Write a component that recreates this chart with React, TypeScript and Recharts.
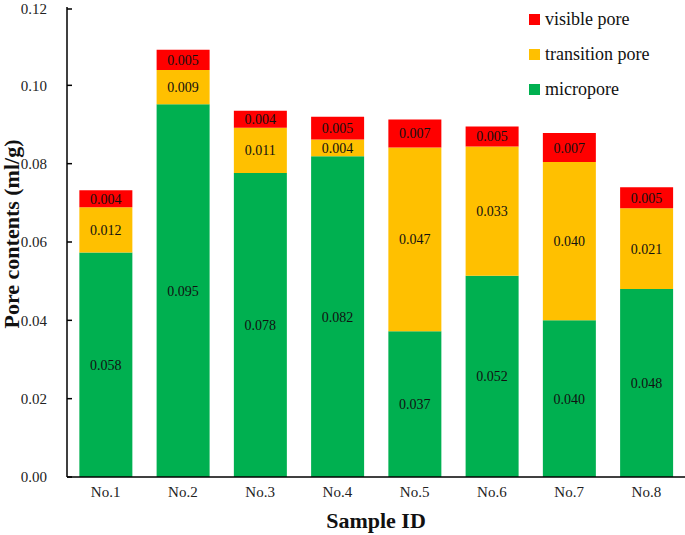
import { BarChart, Bar, XAxis, YAxis, LabelList } from 'recharts';

const samples = ['No.1', 'No.2', 'No.3', 'No.4', 'No.5', 'No.6', 'No.7', 'No.8'];
const micropore = [0.0573, 0.0952, 0.0776, 0.0819, 0.0372, 0.0514, 0.0400, 0.0480];
const transitionPore = [0.0116, 0.0087, 0.0116, 0.0043, 0.0469, 0.0330, 0.0404, 0.0206];
const visiblePore = [0.0043, 0.0052, 0.0043, 0.0058, 0.0072, 0.0051, 0.0074, 0.0054];
const microLabels = ['0.058', '0.095', '0.078', '0.082', '0.037', '0.052', '0.040', '0.048'];
const transitionLabels = ['0.012', '0.009', '0.011', '0.004', '0.047', '0.033', '0.040', '0.021'];
const visibleLabels = ['0.004', '0.005', '0.004', '0.005', '0.007', '0.005', '0.007', '0.005'];
const yTicks = [0, 0.02, 0.04, 0.06, 0.08, 0.1, 0.12];

const data = samples.map((name, i) => ({
  name,
  micro: micropore[i],
  transition: transitionPore[i],
  visible: visiblePore[i],
  microLabel: microLabels[i],
  transitionLabel: transitionLabels[i],
  visibleLabel: visibleLabels[i],
}));

// legend reads top to bottom, opposite of the stack order
const legendItems = [
  { name: 'visible pore', color: '#FF0000' },
  { name: 'transition pore', color: '#FFC000' },
  { name: 'micropore', color: '#00B050' },
];

const FONT = 'Liberation Serif, Times New Roman, serif';

const YTick = (props: any) => {
  const { x, y, payload } = props;
  return (
    <g>
      <line x1={x} x2={x + 5} y1={y} y2={y} stroke="#000" strokeWidth={1.5} />
      <text x={x - 20} y={y} dy="0.35em" textAnchor="end" fontSize={15} fontFamily={FONT} fill="#222">
        {payload.value.toFixed(2)}
      </text>
    </g>
  );
};

const labelStyle = { fontSize: 14, fontFamily: FONT, fill: '#111' };
const titleStyle = { fontSize: 22, fontWeight: 'bold', fontFamily: FONT, fill: '#111' };

export default function App() {
  return (
    <div style={{ position: 'absolute', left: 0, top: 0, width: 685, height: 535, background: '#fff', fontFamily: FONT }}>
      <BarChart
        width={685}
        height={535}
        data={data}
        margin={{ top: 7, right: 0, left: 0, bottom: 0 }}
        barCategoryGap="16%"
      >
        <XAxis
          dataKey="name"
          height={58}
          tickLine={false}
          tickSize={0}
          tickMargin={9}
          axisLine={{ stroke: '#000', strokeWidth: 1.5 }}
          tick={{ fontSize: 15, fontFamily: FONT, fill: '#222' }}
          label={{ value: 'Sample ID', position: 'insideBottom', offset: 7, style: titleStyle }}
        />
        <YAxis
          width={67}
          domain={[0, 0.12]}
          ticks={yTicks}
          tickLine={false}
          tickSize={0}
          tickMargin={0}
          axisLine={{ stroke: '#000', strokeWidth: 1.5 }}
          tick={<YTick />}
          label={{ value: 'Pore contents (ml/g)', angle: -90, position: 'center', dx: -22, dy: -8, style: { ...titleStyle, textAnchor: 'middle' } }}
        />
        <Bar dataKey="micro" name="micropore" stackId="a" fill="#00B050" isAnimationActive={false}>
          <LabelList dataKey="microLabel" position="center" style={labelStyle} />
        </Bar>
        <Bar dataKey="transition" name="transition pore" stackId="a" fill="#FFC000" isAnimationActive={false}>
          <LabelList dataKey="transitionLabel" position="center" style={labelStyle} />
        </Bar>
        <Bar dataKey="visible" name="visible pore" stackId="a" fill="#FF0000" isAnimationActive={false}>
          <LabelList dataKey="visibleLabel" position="center" style={labelStyle} />
        </Bar>
      </BarChart>
      <div style={{ position: 'absolute', left: 529, top: 2, fontSize: 18, color: '#111' }}>
        {legendItems.map((it) => (
          <div key={it.name} style={{ display: 'flex', alignItems: 'center', height: 35 }}>
            <span style={{ width: 11, height: 11, background: it.color, display: 'inline-block', marginRight: 5 }} />
            <span>{it.name}</span>
          </div>
        ))}
      </div>
    </div>
  );
}
